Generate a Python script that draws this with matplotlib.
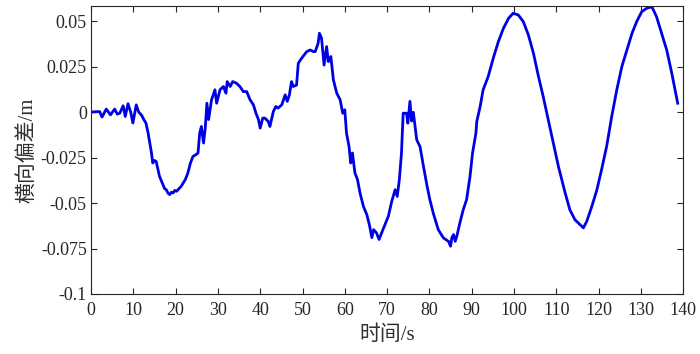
import matplotlib
matplotlib.use('Agg')
import matplotlib.pyplot as plt

# 时间 (s) 与横向偏差 (m)
t = [0.0, 1.0, 2.05, 2.6, 3.1, 3.6, 4.6, 5.6, 6.2, 6.8, 7.6, 8.1, 8.75, 9.4, 9.9,
     10.7, 11.3, 11.9, 12.5, 13.0, 13.5, 14.3, 14.6, 15.0, 15.4, 16.2, 17.0, 17.4,
     17.8, 18.2, 18.6, 19.0, 19.4, 19.8, 20.2, 20.8, 21.3, 22.3, 22.9, 23.5, 24.1,
     24.7, 25.3, 25.7, 26.1, 26.6, 27.0, 27.4, 27.8, 28.5, 29.3, 29.7, 30.5, 31.3,
     31.9, 32.2, 32.9, 33.5, 34.4, 35.2, 36.0, 36.8, 37.6, 38.4, 39.0, 39.6, 40.0,
     40.6, 41.1, 41.9, 42.3, 43.1, 43.7, 44.2, 45.1, 45.9, 46.4, 46.9, 47.4, 47.8,
     48.6, 49.0, 49.8, 51.0, 51.8, 52.6, 53.0, 53.7, 54.0, 54.5, 55.1, 55.7, 56.1,
     56.7, 57.3, 58.1, 58.9, 59.5, 60.0, 60.4, 61.0, 61.4, 61.8, 62.4, 63.0, 63.6,
     64.4, 65.2, 65.8, 66.4, 66.8, 67.5, 68.1, 68.7, 69.5, 70.3, 71.1, 71.9, 72.4,
     72.9, 73.4, 73.8, 74.6, 74.9, 75.4, 75.8, 76.2, 77.0, 77.8, 78.6, 79.4, 80.1,
     80.9, 82.1, 83.3, 84.5, 85.0, 85.3, 85.7, 86.1, 86.5, 87.2, 88.0, 88.8, 89.6,
     90.2, 91.0, 91.2, 92.0, 92.7, 93.9, 95.1, 96.3, 97.5, 98.7, 99.8, 101.0, 102.2,
     103.4, 104.6, 105.7, 106.9, 108.1, 109.3, 110.5, 112.1, 113.2, 114.4, 115.6,
     116.4, 117.2, 118.4, 119.6, 120.7, 121.9, 123.1, 124.3, 125.5, 126.7, 127.9,
     129.0, 130.2, 131.4, 132.6, 133.7, 134.9, 136.1, 137.3, 138.7]
err = [0.0001, 0.0003, 0.0004, -0.0026, -0.0005, 0.0018, -0.0014, 0.0018, -0.0010,
       -0.0005, 0.0036, -0.0023, 0.0047, 0.0, -0.0059, 0.0041, 0.0, -0.0014, -0.004,
       -0.006, -0.0114, -0.0224, -0.0279, -0.0265, -0.027, -0.0353, -0.0398, -0.0420,
       -0.0426, -0.0445, -0.0453, -0.0440, -0.0444, -0.0430, -0.0435, -0.0420, -0.0408,
       -0.037, -0.0334, -0.028, -0.0243, -0.0235, -0.0224, -0.0114, -0.0078, -0.0169,
       -0.009, 0.005, -0.004, 0.0069, 0.0124, 0.005, 0.0124, 0.0142, 0.0105, 0.0169,
       0.0142, 0.0169, 0.016, 0.0142, 0.0114, 0.0114, 0.0069, 0.0041, -0.0005, -0.0041,
       -0.0087, -0.0032, -0.0032, -0.005, -0.0078, 0.0004, 0.0032, 0.0023, 0.0041,
       0.0096, 0.006, 0.0096, 0.0169, 0.0142, 0.015, 0.027, 0.0298, 0.0334, 0.0343,
       0.0334, 0.0334, 0.038, 0.0435, 0.0408, 0.026, 0.0362, 0.0279, 0.0307, 0.0179,
       0.0105, 0.0069, -0.0005, 0.0014, -0.0114, -0.0188, -0.0279, -0.0224, -0.0334,
       -0.037, -0.0444, -0.0518, -0.0563, -0.0618, -0.069, -0.0646, -0.0664, -0.07,
       -0.0664, -0.0618, -0.0572, -0.049, -0.0426, -0.0463, -0.037, -0.0224, -0.0005,
       -0.0005, -0.006, 0.006, -0.0048, 0.0, -0.0151, -0.019, -0.0298, -0.040, -0.048,
       -0.0554, -0.0646, -0.0691, -0.071, -0.0737, -0.069, -0.0673, -0.071, -0.068,
       -0.0609, -0.0536, -0.048, -0.0353, -0.0224, -0.0114, -0.005, 0.0032, 0.0124,
       0.0197, 0.0298, 0.0389, 0.0462, 0.0517, 0.0545, 0.0536, 0.0499, 0.0426, 0.0325,
       0.0206, 0.0087, -0.0041, -0.0169, -0.0298, -0.0444, -0.0536, -0.0591, -0.0618,
       -0.0636, -0.06, -0.0518, -0.0426, -0.0316, -0.0188, -0.0023, 0.0124, 0.0252,
       0.0343, 0.0435, 0.0499, 0.0554, 0.0573, 0.0581, 0.0526, 0.0435, 0.0343, 0.0215,
       0.005]

xticks = list(range(0, 141, 10))
yticks = [0.05, 0.025, 0, -0.025, -0.05, -0.075, -0.1]
ytick_labels = ['0.05', '0.025', '0', '-0.025', '-0.05', '-0.075', '-0.1']

plt.rcParams['font.family'] = ['Liberation Serif', 'Noto Sans CJK SC']
plt.rcParams['axes.unicode_minus'] = False

fig = plt.figure(figsize=(7, 3.54), dpi=100)
ax = fig.add_axes([0.130, 0.1695, 0.846, 0.8135])
ax.plot(t, err, color='#0000e6', linewidth=2.0)

ax.set_xlim(0, 140)
ax.set_ylim(-0.1, 0.0585)
ax.set_xticks(xticks)
ax.set_xticklabels([str(v) for v in xticks])
ax.set_yticks(yticks)
ax.set_yticklabels(ytick_labels)
ax.tick_params(direction='in', length=4, width=0.8, top=True, right=True,
               labelsize=13, colors='#262626')
ax.tick_params(axis='x', pad=6)
ax.tick_params(axis='y', pad=3)
for s in ax.spines.values():
    s.set_linewidth(0.8)
    s.set_color('#262626')

ax.set_xlabel('时间/s', fontsize=15, color='#303030', fontweight='light')
ax.set_ylabel('横向偏差/m', fontsize=15, color='#303030', fontweight='light')
ax.xaxis.set_label_coords(0.5, -0.108)
ax.yaxis.set_label_coords(-0.09, 0.5)

fig.savefig('out.png', dpi=100)
